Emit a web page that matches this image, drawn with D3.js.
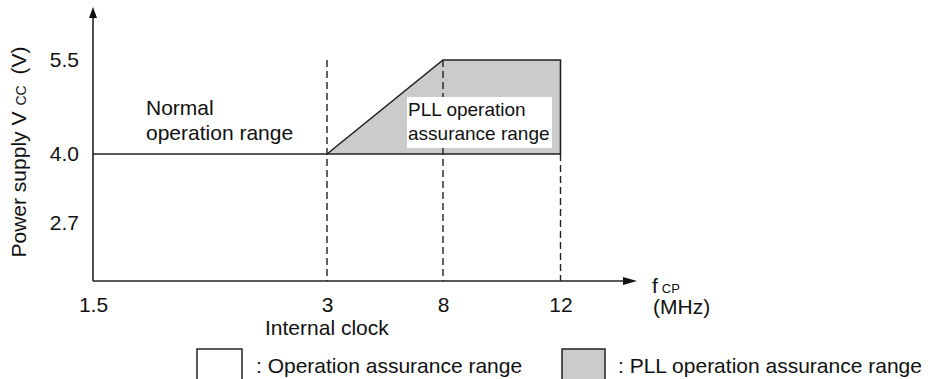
<!DOCTYPE html>
<html>
<head>
<meta charset="utf-8">
<script src="https://cdn.jsdelivr.net/npm/d3@7"></script>
<style>
  body { margin: 0; background: #fff; }
  svg { display: block; font-family: "Liberation Sans", Arial, sans-serif; }
</style>
</head>
<body>
<svg id="chart" width="930" height="379"></svg>
<script>
// frequency ticks (MHz) and supply voltage ticks (V)
const freqTicks = [1.5, 3, 8, 12];
const vccTicks = [2.7, 4.0, 5.5];

// PLL operation assurance range polygon (f, Vcc)
const pllRegion = [
  { f: 3, v: 4.0 },
  { f: 8, v: 5.5 },
  { f: 12, v: 5.5 },
  { f: 12, v: 4.0 },
];
// normal operation boundary line
const normalLine = [
  { f: 1.5, v: 4.0 },
  { f: 12, v: 4.0 },
];
// dashed guides: frequency and voltage they reach up to
const guides = [
  { f: 3, v: 5.5 },
  { f: 8, v: 5.5 },
  { f: 12, v: 4.0 },
];

const ink = "#222",
  textInk = "#111",
  fillGray = "#cbcbcb";
const fontSize = 21;
const axisY = 281,
  axisX = 93;

const svg = d3.select("#chart");

// piecewise scales, the original drawing is not to scale
const x = d3.scaleLinear().domain(freqTicks).range([axisX, 327, 443, 560.5]);
const y = d3.scaleLinear().domain(vccTicks).range([223, 154, 60]);

const line = d3
  .line()
  .x((d) => x(d.f))
  .y((d) => y(d.v));

// shaded PLL region
svg
  .append("path")
  .attr("d", line(pllRegion) + "Z")
  .attr("fill", fillGray)
  .attr("stroke", "none");

// dashed guides
svg
  .append("g")
  .selectAll("line")
  .data(guides)
  .join("line")
  .attr("x1", (d) => x(d.f))
  .attr("x2", (d) => x(d.f))
  .attr("y1", (d) => y(d.v))
  .attr("y2", axisY)
  .attr("stroke", ink)
  .attr("stroke-width", 1.4)
  .attr("stroke-dasharray", "7,4");

// outline of PLL region
svg
  .append("path")
  .attr("d", line(pllRegion))
  .attr("fill", "none")
  .attr("stroke", ink)
  .attr("stroke-width", 1.6);

svg
  .append("path")
  .attr("d", line(normalLine))
  .attr("fill", "none")
  .attr("stroke", ink)
  .attr("stroke-width", 1.6);

// axes with arrows
svg
  .append("line")
  .attr("x1", axisX)
  .attr("y1", axisY)
  .attr("x2", axisX)
  .attr("y2", 16)
  .attr("stroke", ink)
  .attr("stroke-width", 1.6);
svg
  .append("path")
  .attr("d", `M${axisX},7 L${axisX - 4},18 L${axisX + 4},18 Z`)
  .attr("fill", "#111");
svg
  .append("line")
  .attr("x1", axisX)
  .attr("y1", axisY)
  .attr("x2", 625)
  .attr("y2", axisY)
  .attr("stroke", ink)
  .attr("stroke-width", 1.6);
svg
  .append("path")
  .attr("d", `M637,${axisY} L623,${axisY - 4} L623,${axisY + 4} Z`)
  .attr("fill", "#111");

const yAxis = svg
  .append("g")
  .attr("transform", `translate(${axisX},0)`)
  .call(
    d3
      .axisLeft(y)
      .tickValues(vccTicks)
      .tickFormat(d3.format(".1f"))
      .tickSize(0)
      .tickPadding(14)
  );
const xAxis = svg
  .append("g")
  .attr("transform", `translate(0,${axisY})`)
  .call(
    d3
      .axisBottom(x)
      .tickValues(freqTicks)
      .tickFormat((d) => String(d))
      .tickSize(0)
      .tickPadding(16)
  );
[yAxis, xAxis].forEach((g) => {
  g.select(".domain").remove();
  g.selectAll("text")
    .attr("font-size", fontSize)
    .attr("font-family", "Liberation Sans, Arial, sans-serif")
    .attr("fill", textInk);
});

function addText(px, py, str, size) {
  return svg
    .append("text")
    .attr("x", px)
    .attr("y", py)
    .attr("font-size", size || fontSize)
    .attr("fill", textInk)
    .text(str);
}

// region labels
addText(146, 115, "Normal");
addText(146, 140, "operation range");

svg
  .append("rect")
  .attr("x", 407)
  .attr("y", 97)
  .attr("width", 145)
  .attr("height", 51)
  .attr("fill", "#fff");
addText(408, 116, "PLL operation", 19);
addText(408, 140, "assurance range", 19);

// axis titles
const yTitle = svg
  .append("text")
  .attr("transform", "translate(26,152) rotate(-90)")
  .attr("text-anchor", "middle")
  .attr("font-size", fontSize)
  .attr("fill", textInk);
yTitle.append("tspan").text("Power supply V");
yTitle.append("tspan").attr("dx", 6).attr("font-size", 14).text("CC");
yTitle.append("tspan").attr("dx", 5).text(" (V)");

const fTitle = addText(652, 293, "f");
fTitle.append("tspan").attr("dx", 4).attr("font-size", 13).text("CP");
addText(653, 314, "(MHz)");

addText(265, 335, "Internal clock");

// legend
svg
  .append("rect")
  .attr("x", 197)
  .attr("y", 349)
  .attr("width", 45)
  .attr("height", 40)
  .attr("fill", "#fff")
  .attr("stroke", ink)
  .attr("stroke-width", 1.5);
addText(256, 373, ": Operation assurance range");
svg
  .append("rect")
  .attr("x", 562)
  .attr("y", 349)
  .attr("width", 43)
  .attr("height", 40)
  .attr("fill", fillGray)
  .attr("stroke", ink)
  .attr("stroke-width", 1.5);
addText(618, 373, ": PLL operation assurance range");
</script>
</body>
</html>
